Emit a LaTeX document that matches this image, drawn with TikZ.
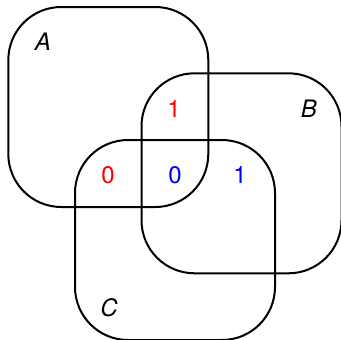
\documentclass[tikz,border=0pt]{standalone}
\usepackage{fontspec}
\setmainfont{TeX Gyre Heros}
\begin{document}
\begin{tikzpicture}[x=1pt,y=-1pt,
  setbox/.style={draw=black, line width=2pt, rectangle, rounded corners=53pt,
    minimum width=200pt, minimum height=200pt, inner sep=0pt},
  lbl/.style={inner sep=0pt, font=\fontsize{24}{28}\selectfont}]
\useasboundingbox (0,0) rectangle (341,340);
\node[setbox] (A) at (108.3,107) {};
\node[setbox] (B) at (241.5,173.3) {};
\node[setbox] (C) at (175,240) {};
\node[lbl] (la) at (43,42) {\itshape A};
\node[lbl] (lb) at (309,109) {\itshape B};
\node[lbl] (lc) at (109,308) {\itshape C};
\node[lbl, text=red] (ab) at (174,109) {1};
\node[lbl, text=red] (ac) at (108,175) {0};
\node[lbl, text=blue] (abc) at (175,175) {0};
\node[lbl, text=blue] (bc) at (240,175) {1};
\end{tikzpicture}
\end{document}
